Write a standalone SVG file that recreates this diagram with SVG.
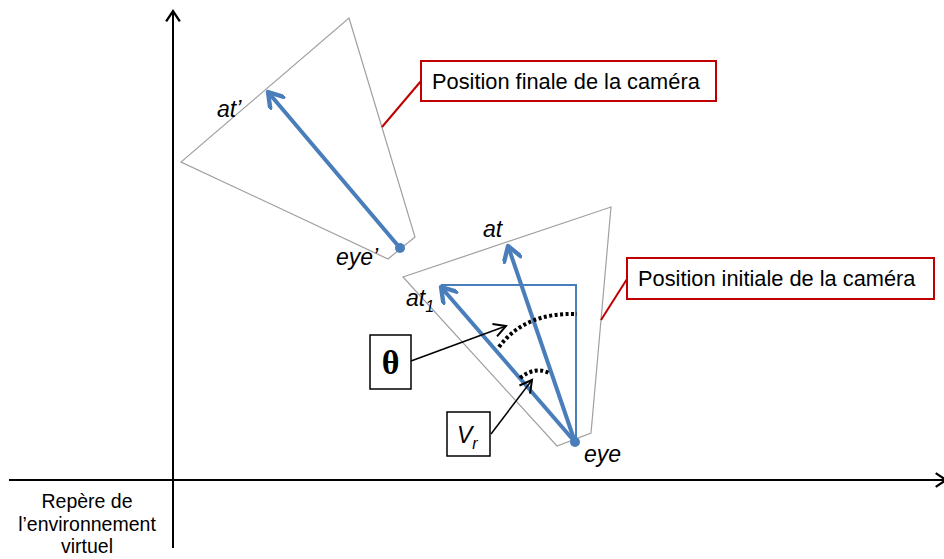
<svg xmlns="http://www.w3.org/2000/svg" width="944" height="559" viewBox="0 0 944 559">
<defs>
<marker id="chev" markerUnits="userSpaceOnUse" markerWidth="20" markerHeight="20" viewBox="-12 -8 14 16" refX="0" refY="0" orient="auto">
<path d="M-11,-7 L0,0 L-11,7" fill="none" stroke="#4A7EBB" stroke-width="3.5" stroke-linecap="round" stroke-linejoin="round"/>
</marker>
<marker id="kchev" markerUnits="userSpaceOnUse" markerWidth="16" markerHeight="16" viewBox="-10 -6 12 12" refX="0" refY="0" orient="auto">
<path d="M-9,-5 L0,0 L-9,5" fill="none" stroke="#000" stroke-width="1.5"/>
</marker>
<marker id="axchev" markerUnits="userSpaceOnUse" markerWidth="16" markerHeight="16" viewBox="-10 -7 12 14" refX="0" refY="0" orient="auto">
<path d="M-9,-6 L0,0 L-9,6" fill="none" stroke="#000" stroke-width="2"/>
</marker>
</defs>
<style>
.frust{fill:none;stroke:#A0A0A0;stroke-width:1.2}
.blue{stroke:#4A7EBB;stroke-width:4;fill:none}
.thinblue{stroke:#4A7EBB;stroke-width:2;fill:none}
.dot{fill:#4A7EBB}
.red{stroke:#C00000;stroke-width:2;fill:none}
.redbox{fill:#fff;stroke:#C00000;stroke-width:2}
.box{fill:#fff;stroke:#000;stroke-width:1.5}
.lead{stroke:#000;stroke-width:1.5;fill:none}
.dots{stroke:#000;stroke-width:4;fill:none;stroke-dasharray:3 2.5}
.t{font-family:"Liberation Sans",Arial,sans-serif;font-size:21.8px;fill:#000}
.it{font-family:"Liberation Sans",Arial,sans-serif;font-size:23px;font-style:italic;fill:#000}
.lbl{font-family:"Liberation Sans",Arial,sans-serif;font-size:19.5px;fill:#000}
</style>
<g id="axes">
<line x1="173" y1="548" x2="173" y2="11" stroke="#000" stroke-width="2" marker-end="url(#axchev)"/>
<line x1="9" y1="480" x2="946" y2="480" stroke="#000" stroke-width="2" marker-end="url(#axchev)"/>
</g>
<g id="frustum-final">
<polygon class="frust" points="349,18 415,237 388,259 181,162"/>
</g>
<g id="frustum-initial">
<polygon class="frust" points="611,207 591,433 557,446 403,277"/>
</g>
<g id="connectors">
<line class="blue" x1="400" y1="248" x2="268" y2="92" marker-end="url(#chev)"/>
<path class="thinblue" d="M441,285 H576 V442"/>
<line class="blue" x1="575" y1="442" x2="508" y2="246" marker-end="url(#chev)"/>
<line class="blue" x1="575" y1="442" x2="441" y2="287" marker-end="url(#chev)"/>
<path class="dots" d="M499,347 Q525,312 577,314"/>
<path class="dots" d="M520,378 Q535,366 549,373"/>
<line class="lead" x1="411" y1="361" x2="506" y2="326" marker-end="url(#kchev)"/>
<line class="lead" x1="491" y1="434" x2="532" y2="380" marker-end="url(#kchev)"/>
<line class="red" x1="382" y1="127" x2="421" y2="81"/>
<line class="red" x1="601" y1="320" x2="627" y2="279"/>
</g>
<g id="eye-final">
<circle class="dot" cx="400" cy="248" r="5"/>
<text class="it" x="336" y="265">eye’</text>
</g>
<g id="at-final">
<text class="it" x="217" y="117">at’</text>
</g>
<g id="eye">
<circle class="dot" cx="575" cy="442" r="5"/>
<text class="it" x="584" y="462">eye</text>
</g>
<g id="at">
<text class="it" x="483" y="237">at</text>
</g>
<g id="at1">
<text class="it" x="406" y="306">at<tspan font-size="16" dy="6">1</tspan></text>
</g>
<g id="theta">
<rect class="box" x="370" y="335" width="41" height="54"/>
<text x="390.5" y="374" text-anchor="middle" font-family="Liberation Serif,serif" font-weight="bold" font-size="34">θ</text>
</g>
<g id="vr">
<rect class="box" x="447" y="412" width="43" height="44"/>
<text class="it" x="457" y="443" font-size="25">V<tspan font-size="16" dy="6">r</tspan></text>
</g>
<g id="label-final">
<rect class="redbox" x="421" y="61" width="295" height="40"/>
<text class="t" x="432" y="89">Position finale de la caméra</text>
</g>
<g id="label-initial">
<rect class="redbox" x="627" y="258" width="307" height="41"/>
<text class="t" x="638" y="286">Position initiale de la caméra</text>
</g>
<g id="label-repere">
<text class="lbl" x="87" y="508" text-anchor="middle">Repère de</text>
<text class="lbl" x="87" y="531" text-anchor="middle">l’environnement</text>
<text class="lbl" x="87" y="553" text-anchor="middle">virtuel</text>
</g>
</svg>
